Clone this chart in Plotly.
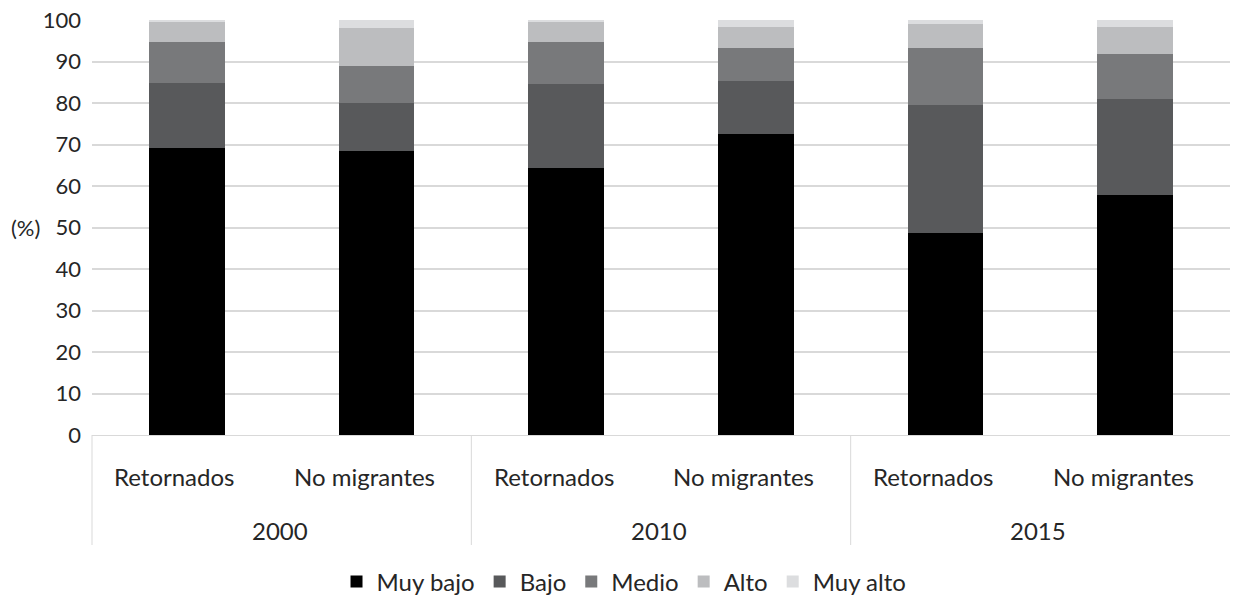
import plotly.graph_objects as go

years = ["2000", "2000", "2010", "2010", "2015", "2015"]
groups = ["Retornados", "No migrantes", "Retornados", "No migrantes", "Retornados", "No migrantes"]
year_labels = ["2000", "2010", "2015"]

series_names = ["Muy bajo", "Bajo", "Medio", "Alto", "Muy alto"]
muy_bajo = [69.2, 68.5, 64.4, 72.5, 48.7, 57.8]
bajo = [15.6, 11.5, 20.3, 12.8, 30.9, 23.2]
medio = [9.9, 9.0, 9.9, 7.9, 13.6, 10.8]
alto = [4.9, 9.0, 4.9, 5.2, 5.8, 6.6]
muy_alto = [0.4, 2.0, 0.5, 1.6, 1.0, 1.6]
colors = ["#000000", "#58595b", "#78797b", "#bcbdbf", "#dcdddf"]

FONT = "Lato, Open Sans, sans-serif"
FS = 24
GRID = "#d9d9d9"
TXT = "#262626"

fig = go.Figure()
for name, vals, col in zip(series_names, [muy_bajo, bajo, medio, alto, muy_alto], colors):
    fig.add_trace(go.Bar(x=[years, groups], y=vals, name=name, marker_color=col,
                         marker_line_width=0, width=0.4))

n = len(groups)
annotations = []
for i, g in enumerate(groups):
    annotations.append(dict(text=g, x=(i + 0.5) / n, xref="paper", xshift=-12, y=0, yref="paper",
                            yshift=-41, showarrow=False, xanchor="center", yanchor="middle",
                            font=dict(size=FS, color=TXT)))
for j, yl in enumerate(year_labels):
    annotations.append(dict(text=yl, x=(j + 0.5) / len(year_labels), xref="paper", xshift=-2,
                            y=0, yref="paper", yshift=-95, showarrow=False, xanchor="center",
                            yanchor="middle", font=dict(size=FS, color=TXT)))
annotations.append(dict(text="(%)", x=0, xref="paper", xshift=-50, y=50, yref="y",
                        showarrow=False, xanchor="right", yanchor="middle",
                        font=dict(size=22, color=TXT)))

shapes = []
for j in range(len(year_labels)):
    shapes.append(dict(type="line", xref="paper", yref="paper", x0=j / len(year_labels),
                       x1=j / len(year_labels), y0=0, y1=-110 / 415,
                       line=dict(color=GRID, width=1)))

fig.update_layout(
    barmode="stack",
    width=1233, height=598,
    margin=dict(l=92, r=3, t=20, b=163, autoexpand=False),
    plot_bgcolor="white", paper_bgcolor="white",
    font=dict(family=FONT, size=FS, color=TXT),
    legend=dict(orientation="h", x=0.4675, xanchor="center", y=-0.3, yanchor="top",
                font=dict(size=FS, color=TXT), traceorder="normal", itemwidth=30,
                tracegroupgap=0),
    xaxis=dict(type="multicategory", showdividers=False, showticklabels=False,
               showline=True, linecolor=GRID, linewidth=1, ticks="", automargin=False),
    yaxis=dict(range=[0, 100], dtick=10, showgrid=True, gridcolor=GRID,
               gridwidth=2, zeroline=False, ticks="", tickfont=dict(size=22, color=TXT),
               ticklabelstandoff=10, automargin=False),
    annotations=annotations,
    shapes=shapes,
)

fig.write_html("out.html", config={"displayModeBar": False},
               post_script="document.body.style.margin='0';")
